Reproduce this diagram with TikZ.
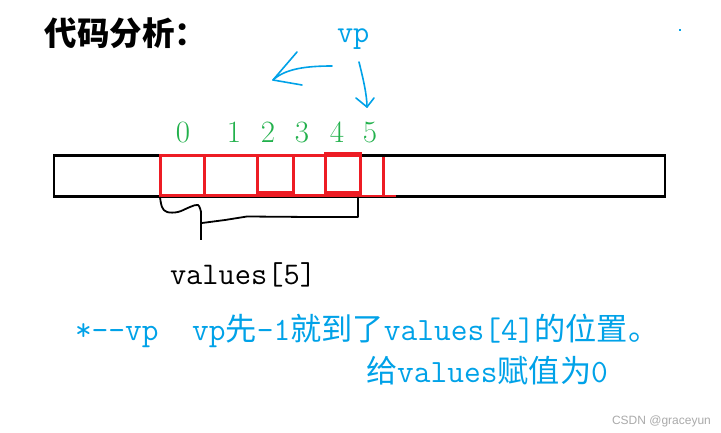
\documentclass[tikz,border=0pt]{standalone}
\usepackage{fontspec}
\newfontfamily\cjk[Scale=0.96]{Noto Sans CJK SC}
\newfontfamily\cjktitle{Noto Sans CJK SC}
\newfontfamily\wm{Liberation Sans}
\definecolor{pblue}{RGB}{0,162,232}
\definecolor{pred}{RGB}{237,28,36}
\definecolor{pgreen}{RGB}{34,177,76}
\begin{document}
\begin{tikzpicture}[x=1pt,y=-1pt,
  txt/.style={inner sep=0pt,outer sep=0pt,anchor=base west},
  dig/.style={inner sep=0pt,outer sep=0pt,anchor=base,text=pgreen,font=\fontsize{31}{31}\selectfont},
  cell/.style={draw=pred,line width=3pt},
  stroke/.style={draw=pblue,line width=1.6pt,line cap=round,line join=round}]
\useasboundingbox (0,0) rectangle (721,433);
\fill[white] (0,0) rectangle (721,433);
% title
\node[txt,font=\fontsize{32.5}{32.5}\selectfont\cjktitle\bfseries] (title) at (45,46) {代码分析：};
% vp label
\node[txt,text=pblue,font=\fontsize{31.5}{31.5}\selectfont\ttfamily] (vp) at (337,43) {vp};
% arrows
\draw[stroke] (332,66) .. controls (305,66) and (285,69) .. (273,80);
\draw[stroke] (297,52) -- (273,80) -- (302,85);
\draw[stroke] (359,62) .. controls (363,78) and (367,95) .. (367,107);
\draw[stroke] (356,98) -- (367,107) -- (374,98);
% digits
\node[dig] (d0) at (183,143) {0};
\node[dig] (d1) at (234,143) {1};
\node[dig] (d2) at (268,143) {2};
\node[dig] (d3) at (302,143) {3};
\node[dig] (d4) at (337,143) {4};
\node[dig] (d5) at (370,143) {5};
% big array
\draw[line width=2.5pt] (54,155.5) rectangle (665,196.5);
\draw[line width=3pt] (360,155.5) -- (398,155.5);
% red cells
\draw[cell] (160,155.5) rectangle (360,196);
\draw[cell] (204,155.5) -- (204,196);
\draw[cell] (257,155.5) rectangle (293,193);
\draw[cell] (325,153.5) rectangle (360,193);
\draw[cell] (383,157) -- (383,195);
\draw[draw=pred,line width=2pt] (360,196) -- (396,196);
% brace
\draw[line width=1.8pt,line join=round] plot[smooth,tension=0.6] coordinates {(160,197) (162,207) (167,212) (178,212) (190,207) (198,205) (201,212)} -- (201,240);
\draw[line width=1.8pt,line join=round] (202,223) -- (225,220) -- (247,216.5) -- (310,217) -- (358,217) -- (358,197);
% values[5]
\node[txt,font=\fontsize{31.5}{31.5}\selectfont\ttfamily] (vals) at (170,284) {values[5]};
% blue text
\node[txt,text=pblue,font=\fontsize{32.5}{32.5}\selectfont\ttfamily] (line1) at (75,340) {*--vp\ \ vp{\cjk 先}-1{\cjk 就到了}values[4]{\cjk 的位置。}};
\node[txt,text=pblue,font=\fontsize{32.5}{32.5}\selectfont\ttfamily] (line2) at (366,382) {{\cjk 给}values{\cjk 赋值为}0};
% dot
\fill[pblue] (679,29) rectangle (681,31);
% watermark
\node[txt,text={rgb,255:red,170;green,170;blue,170},font=\fontsize{12}{12}\selectfont\wm] (wm) at (612,424) {CSDN @graceyun};
\end{tikzpicture}
\end{document}
